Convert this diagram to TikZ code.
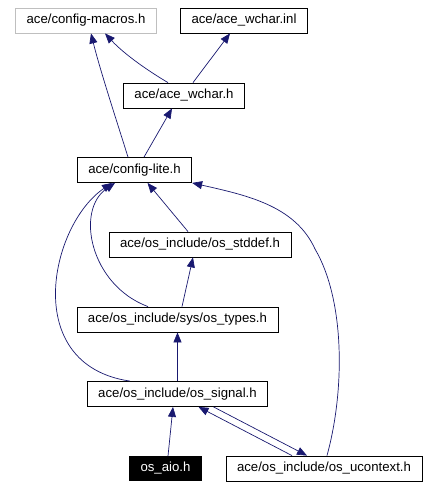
\documentclass[tikz,border=0pt]{standalone}
\usepackage{fontspec}
\setmainfont{Liberation Sans}
\usetikzlibrary{arrows.meta}
\definecolor{inclblue}{RGB}{25,25,112}
\definecolor{extgray}{RGB}{191,191,191}

\begin{document}
\begin{tikzpicture}[x=1pt, y=-1pt,
		file/.style={draw=black, rectangle, line width=0.8pt, inner xsep=11pt, inner ysep=0pt, minimum height=25pt, font=\fontsize{13.2}{15}\selectfont},
		extfile/.style={file, draw=extgray},
		curfile/.style={file, fill=black, text=white, minimum height=24pt},
		incl/.style={draw=inclblue, line width=0.7pt, -{Triangle[length=10pt, width=8pt]}}]
		\useasboundingbox (0,0) rectangle (429,488);
		\foreach \fid/\fx/\fy/\fstyle/\fname in {
				macros/86/20.5/extfile/{ace/config-macros.h},
				inl/244/20.5/file/{ace/ace\_wchar.inl},
				wchar/184/95.5/file/{ace/ace\_wchar.h},
				lite/134.5/170/file/{ace/config-lite.h},
				stddef/200/244.5/file/{ace/os\_include/os\_stddef.h},
				types/177.5/319.5/file/{ace/os\_include/sys/os\_types.h},
				signal/177.5/394/file/{ace/os\_include/os\_signal.h},
				aio/165.5/468.5/curfile/{os\_aio.h},
				ucontext/324/468.5/file/{ace/os\_include/os\_ucontext.h}} {
			\node[\fstyle] (\fid) at (\fx,\fy) {\fname};
		}
		\draw[incl] ([xshift=-16pt]wchar.north) .. controls (150,72) and (125,55) .. ([xshift=19pt]macros.south);
		\draw[incl] ([xshift=9pt]wchar.north) -- ([xshift=-14pt]inl.south);
		\draw[incl] ([xshift=-6.5pt]lite.north) .. controls (118,125) and (100,70) .. ([xshift=5pt]macros.south);
		\draw[incl] ([xshift=9.5pt]lite.north) -- ([xshift=-12pt]wchar.south);
		\draw[incl] ([xshift=-12pt]stddef.north) -- ([xshift=13pt]lite.south);
		\draw[incl] ([xshift=-29.5pt]types.north) .. controls (90,285) and (75,210) .. ([xshift=-19.5pt]lite.south);
		\draw[incl] ([xshift=-47.5pt]signal.north) .. controls (20,365) and (50,225) .. ([xshift=-22.5pt]lite.south);
		\draw[incl] ([xshift=3pt]ucontext.north) .. controls (345,390) and (345,300) .. (315,249)
			.. controls (295,205) and (245,195) .. (lite.south east);
		\draw[incl] ([xshift=4.5pt]types.north) -- ([xshift=-7pt]stddef.south);
		\draw[incl] (signal.north) -- (types.south);
		\draw[incl] ([xshift=2.5pt]aio.north) -- ([xshift=-4.5pt]signal.south);
		\draw[incl] ([xshift=-32pt]ucontext.north) -- ([xshift=21pt]signal.south);
		\draw[incl] ([xshift=36pt]signal.south) -- ([xshift=-17pt]ucontext.north);
	\end{tikzpicture}
\end{document}
